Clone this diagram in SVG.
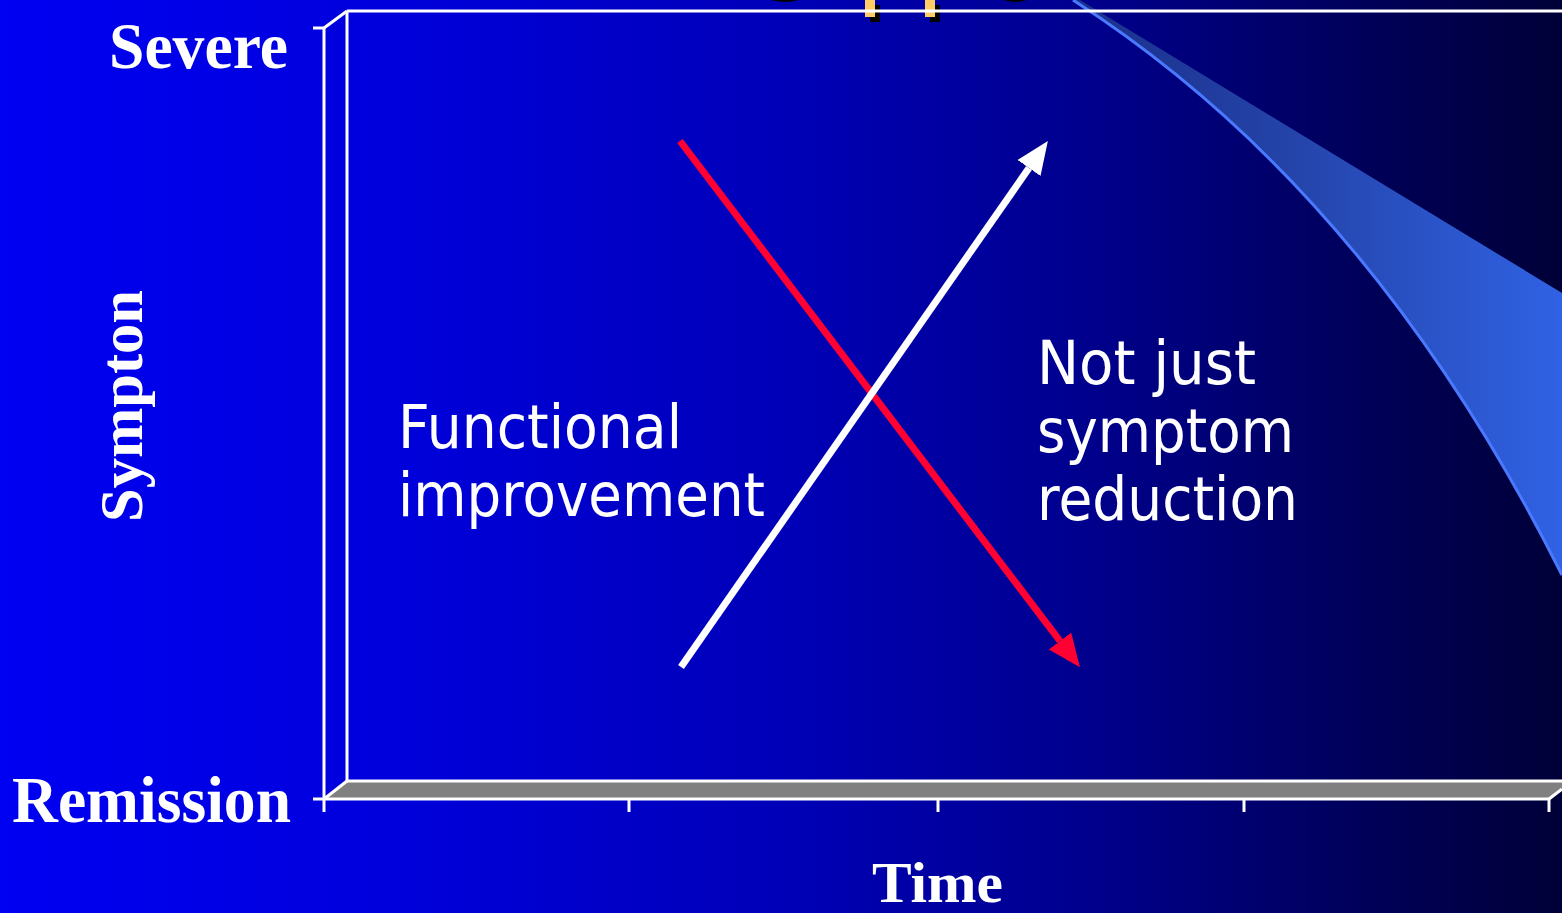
<svg xmlns="http://www.w3.org/2000/svg" width="1562" height="913" viewBox="0 0 1562 913">
  <defs>
    <linearGradient id="bg" x1="0" y1="0" x2="1562" y2="0" gradientUnits="userSpaceOnUse">
      <stop offset="0" stop-color="#0000f2"/>
      <stop offset="0.25" stop-color="#0000dc"/>
      <stop offset="0.5" stop-color="#0000b8"/>
      <stop offset="0.7" stop-color="#00008c"/>
      <stop offset="0.88" stop-color="#000058"/>
      <stop offset="1" stop-color="#000038"/>
    </linearGradient>
    <linearGradient id="swoosh" x1="1075" y1="0" x2="1562" y2="0" gradientUnits="userSpaceOnUse">
      <stop offset="0" stop-color="#1a2f8a"/>
      <stop offset="0.45" stop-color="#2444aa"/>
      <stop offset="1" stop-color="#3062e4"/>
    </linearGradient>
    <marker id="head-red" markerUnits="userSpaceOnUse" markerWidth="34" markerHeight="30" refX="0" refY="15" orient="auto" viewBox="0 0 34 30">
      <path d="M0,1 L33,15 L0,29 z" fill="#ff0033"/>
    </marker>
    <marker id="head-white" markerUnits="userSpaceOnUse" markerWidth="34" markerHeight="30" refX="0" refY="15" orient="auto" viewBox="0 0 34 30">
      <path d="M0,1 L33,15 L0,29 z" fill="#ffffff"/>
    </marker>
    <style>
      .axis { stroke: #ffffff; stroke-width: 3; fill: none; }
      .serif { font-family: "Liberation Serif", "Times New Roman", serif; font-weight: bold; fill: #ffffff; }
      .sans { font-family: "DejaVu Sans", Tahoma, Verdana, sans-serif; fill: #ffffff; font-size: 61px; }
    </style>
  </defs>

  <rect id="background" x="0" y="0" width="1562" height="913" fill="url(#bg)"/>

  <!-- clipped title fragments at the top edge -->
  <g id="title-fragments">
    <ellipse cx="785" cy="-4" rx="18" ry="6" fill="#000000"/>
    <ellipse cx="1015" cy="-4" rx="15" ry="6" fill="#000000"/>
    <rect x="870" y="5" width="10" height="17" fill="#000000"/>
    <rect x="865" y="0" width="10" height="17" fill="#ffcc66"/>
    <rect x="930" y="5" width="10" height="17" fill="#000000"/>
    <rect x="925" y="0" width="10" height="17" fill="#ffcc66"/>
  </g>

  <!-- decorative swoosh -->
  <g id="swoosh-band">
    <path d="M1073,0 L1080,0 L1562,293 L1562,575 Q1369,190 1073,0 z" fill="url(#swoosh)"/>
    <path d="M1073,0 Q1369,190 1562,575" fill="none" stroke="#4a78ff" stroke-width="3"/>
  </g>

  <!-- chart frame -->
  <g id="chart-frame">
    <polygon points="324,799 347,781 1562,781 1562,788 1549,799" fill="#808080"/>
    <line class="axis" x1="347" y1="11" x2="1562" y2="11"/>
    <line class="axis" x1="347" y1="11" x2="347" y2="781"/>
    <line class="axis" x1="347" y1="781" x2="1562" y2="781"/>
    <line class="axis" x1="324" y1="28" x2="347" y2="11"/>
    <line class="axis" x1="324" y1="799" x2="347" y2="781"/>
    <line class="axis" x1="324" y1="28" x2="324" y2="812"/>
    <line class="axis" x1="313" y1="28" x2="324" y2="28"/>
    <line class="axis" x1="313" y1="799" x2="1549" y2="799"/>
    <line class="axis" x1="1549" y1="799" x2="1562" y2="789"/>
    <line class="axis" x1="629" y1="799" x2="629" y2="812"/>
    <line class="axis" x1="938" y1="799" x2="938" y2="812"/>
    <line class="axis" x1="1244" y1="799" x2="1244" y2="812"/>
    <line class="axis" x1="1549" y1="799" x2="1549" y2="812"/>
  </g>

  <g id="label-severe">
    <text class="serif" x="109" y="68" font-size="65" textLength="179" lengthAdjust="spacingAndGlyphs">Severe</text>
  </g>
  <g id="label-remission">
    <text class="serif" x="12" y="822" font-size="65" textLength="279" lengthAdjust="spacingAndGlyphs">Remission</text>
  </g>
  <g id="label-sympton">
    <text class="serif" transform="translate(142,406) rotate(-90)" x="0" y="0" font-size="62" text-anchor="middle" textLength="232" lengthAdjust="spacingAndGlyphs">Sympton</text>
  </g>
  <g id="label-time">
    <text class="serif" x="872" y="902" font-size="57" textLength="131" lengthAdjust="spacingAndGlyphs">Time</text>
  </g>

  <g id="label-functional">
    <text class="sans" x="398" y="448" textLength="284" lengthAdjust="spacingAndGlyphs">Functional</text>
    <text class="sans" x="398" y="516" textLength="367" lengthAdjust="spacingAndGlyphs">improvement</text>
  </g>
  <g id="label-symptom">
    <text class="sans" x="1037" y="384" textLength="219" lengthAdjust="spacingAndGlyphs">Not just</text>
    <text class="sans" x="1037" y="452" textLength="257" lengthAdjust="spacingAndGlyphs">symptom</text>
    <text class="sans" x="1037" y="520" textLength="261" lengthAdjust="spacingAndGlyphs">reduction</text>
  </g>

  <g id="connectors">
    <line x1="680" y1="141" x2="1060" y2="641" stroke="#ff0033" stroke-width="7" marker-end="url(#head-red)"/>
    <line x1="681" y1="667" x2="1029" y2="168" stroke="#ffffff" stroke-width="7" marker-end="url(#head-white)"/>
  </g>
</svg>
